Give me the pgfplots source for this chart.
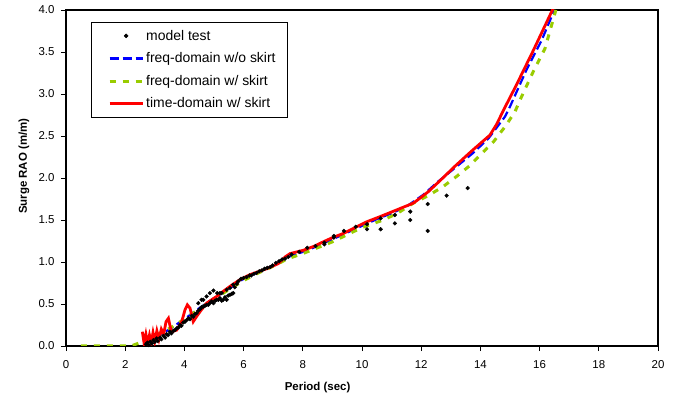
\documentclass[border=0pt]{standalone}
\usepackage{pgfplots}
\pgfplotsset{compat=1.18}
\usepackage{fontspec}
\setmainfont{Liberation Sans}
\definecolor{lgreen}{HTML}{99CC00}
\begin{document}
\begin{tikzpicture}
\begin{axis}[
  scale only axis,
  width=592bp, height=336bp,
  xmin=0, xmax=20, ymin=0, ymax=4,
  xtick={0,2,...,20},
  ytick={0,0.5,...,4},
  yticklabel style={xshift=-3bp, /pgf/number format/.cd,fixed,fixed zerofill,precision=1},
  /pgf/number format/assume math mode=true,
  tick label style={font=\fontsize{11.5}{13}\selectfont},
  xticklabel style={yshift=-6bp},
  tick align=outside,
  xtick pos=left, ytick pos=left,
  major tick length=5bp,
  every tick/.style={black, line width=0.9bp},
  axis line style={line width=1.6bp},
  xlabel={\textbf{Period (sec)}},
  ylabel={\textbf{Surge RAO (m/m)}},
  label style={font=\fontsize{11.5}{13}\selectfont},
  xlabel style={at={(axis description cs:0.425,-0.125)}, anchor=center},
  ylabel style={at={(axis description cs:-0.0710,0.535)}, anchor=center},
  legend image code/.code={\path (0bp,0bp) (40bp,0bp); \draw[mark repeat=2,mark phase=2,#1] plot coordinates {(7bp,0bp) (23.5bp,0bp) (40bp,0bp)};},
  legend style={at={(0.042,0.965)}, anchor=north west, draw=black, line width=0.6bp,
    font=\fontsize{14}{16}\selectfont, row sep=7bp, inner xsep=10bp, inner ysep=6bp,
    nodes={inner xsep=2bp}},
  legend cell align=left,
]
\addlegendimage{only marks, mark=*, mark size=1.9bp, black}
\addlegendentry{model test}

\addplot[blue, line width=2.2bp, dash pattern=on 9bp off 4bp] coordinates {
(2.62,0.01) (3.0,0.10) (3.5,0.20) (4.0,0.32) (4.5,0.45) (5.0,0.57) (5.5,0.68) (6.0,0.80) (6.5,0.88) (7.0,0.96) (7.5,1.06) (8.0,1.12) (8.5,1.19) (9.0,1.27) (9.5,1.35) (10.0,1.43) (10.5,1.51) (11.0,1.58) (11.5,1.66) (12.07,1.80) (12.58,1.96) (13.14,2.12) (13.76,2.30) (14.27,2.47) (14.83,2.73) (15.0,2.85) (15.56,3.29) (16.07,3.64) (16.50,4.0)
};
\addlegendentry{freq-domain w/o skirt}

\addplot[lgreen, line width=3bp, dash pattern=on 6bp off 7bp] coordinates {
(0.5,0) (2.2,0) (2.5,0.04) (3.0,0.12) (3.5,0.21) (4.0,0.32) (4.5,0.44) (5.0,0.56) (5.5,0.67) (6.0,0.78) (6.5,0.87) (7.0,0.95) (7.5,1.04) (8.0,1.10) (8.5,1.17) (9.0,1.24) (9.59,1.34) (10.0,1.41) (10.72,1.50) (11.2,1.58) (11.73,1.70) (12.24,1.79) (12.75,1.90) (13.2,2.02) (13.65,2.15) (14.04,2.29) (14.44,2.43) (14.83,2.61) (15.17,2.79) (15.34,2.93) (15.79,3.27) (16.18,3.54) (16.55,4.0)
};
\addlegendentry{freq-domain w/ skirt}

\addplot[red, line width=2.8bp] coordinates {
(2.58,0.17) (2.64,0.03) (2.70,0.14) (2.76,0.03) (2.82,0.13) (2.88,0.04) (2.94,0.16) (3.00,0.06) (3.07,0.18) (3.14,0.08) (3.22,0.20) (3.30,0.14) (3.38,0.29) (3.46,0.33) (3.52,0.23) (3.57,0.17) (3.74,0.19) (3.91,0.29) (4.02,0.43) (4.10,0.49) (4.19,0.45) (4.30,0.29) (4.41,0.35) (4.53,0.41) (4.75,0.51) (4.92,0.55) (5.09,0.59) (5.31,0.65) (5.54,0.71) (5.88,0.79) (6.22,0.85) (6.78,0.92) (7.17,0.98) (7.40,1.06) (7.57,1.10) (8.02,1.14) (8.40,1.19) (8.69,1.24) (9.00,1.29) (9.37,1.34) (9.82,1.42) (10.17,1.48) (10.61,1.54) (11.17,1.62) (11.73,1.70) (11.96,1.76) (12.25,1.84) (12.70,1.99) (13.14,2.14) (13.70,2.32) (14.32,2.51) (14.55,2.64) (14.77,2.80) (15.22,3.11) (15.79,3.52) (16.46,4.02)
};
\addlegendentry{time-domain w/ skirt}

\addplot[only marks, mark=*, mark size=1.9bp, black, forget plot] coordinates {
(2.70,0.02) (2.75,0.04) (2.80,0.01) (2.85,0.05) (2.90,0.03) (2.95,0.07) (3.00,0.05) (3.06,0.09) (3.10,0.06) (3.18,0.10) (3.22,0.08) (3.29,0.12) (3.35,0.10) (3.40,0.14) (3.45,0.13) (3.51,0.17) (3.56,0.15) (3.63,0.18) (3.68,0.19) (3.74,0.21) (3.80,0.22) (3.85,0.25) (3.90,0.24) (3.96,0.28) (4.02,0.29) (4.08,0.31) (4.14,0.33) (4.19,0.32) (4.25,0.36) (4.30,0.35) (4.36,0.38) (4.41,0.39) (4.47,0.42) (4.53,0.44) (4.58,0.46) (4.64,0.47) (4.70,0.48) (4.75,0.49) (4.81,0.49) (4.86,0.51) (4.92,0.53) (4.98,0.51) (5.04,0.54) (5.09,0.55) (5.15,0.55) (5.20,0.57) (5.26,0.54) (5.31,0.55) (5.37,0.58) (5.43,0.55) (5.48,0.60) (5.54,0.61) (5.60,0.62) (5.65,0.63)
(4.47,0.51) (4.58,0.55) (4.64,0.55) (4.75,0.59) (4.86,0.63) (4.98,0.66) (5.11,0.63) (5.20,0.63) (5.26,0.63) (5.43,0.67) (5.54,0.69) (5.65,0.73)
(5.70,0.70) (5.77,0.74) (5.82,0.77) (5.91,0.80) (6.00,0.81) (6.10,0.82) (6.20,0.84) (6.26,0.84) (6.35,0.86) (6.44,0.87) (6.53,0.89) (6.62,0.90) (6.71,0.92) (6.80,0.93) (6.90,0.94) (6.98,0.96) (7.09,0.99) (7.20,1.01) (7.30,1.03) (7.40,1.04) (7.51,1.06) (7.62,1.09) (7.88,1.12) (8.15,1.17) (8.43,1.19) (8.73,1.23) (8.73,1.21) (9.05,1.31) (9.05,1.29) (9.39,1.37) (9.79,1.42) (10.17,1.45) (10.17,1.39) (10.63,1.52) (10.63,1.39) (11.11,1.56) (11.11,1.46) (11.63,1.60) (11.63,1.50) (12.22,1.69) (12.22,1.37) (12.86,1.79) (13.57,1.88)
};
\end{axis}
\path (-66bp,-59bp) rectangle (617bp,346bp);
\end{tikzpicture}
\end{document}
